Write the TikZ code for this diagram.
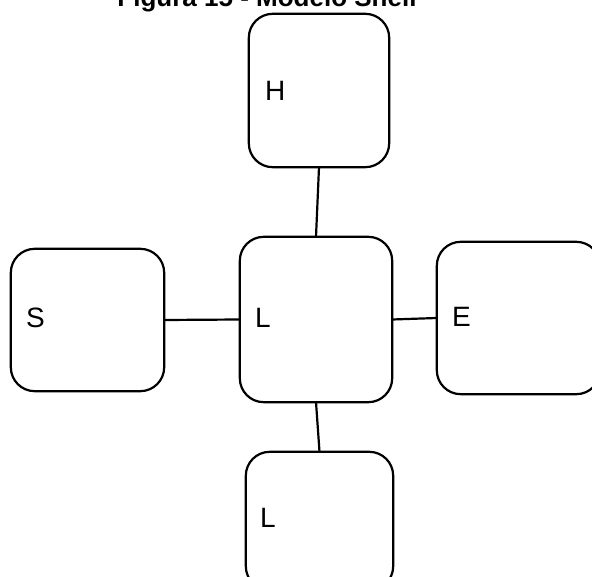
\documentclass[tikz,border=0pt]{standalone}
\usepackage{fontspec}
\setmainfont{Liberation Sans}
\begin{document}
\begin{tikzpicture}[x=1pt,y=-1pt,
  box/.style={draw=black,line width=2.2pt,rounded corners=24pt,fill=white},
  area/.style={inner sep=0pt},
  lbl/.style={anchor=base west,inner sep=0pt,font=\fontsize{28}{34}\selectfont},
  conn/.style={draw=black,line width=2.2pt}]
\useasboundingbox (0,0) rectangle (592,577);
\clip (0,0) rectangle (592,577);
% title
\node[anchor=base,inner sep=0pt,font=\bfseries\fontsize{26}{31}\selectfont] (title) at (267,7) {Figura 15 - Modelo Shell};
% box areas
\node[area,minimum width=140pt,minimum height=153pt] (H) at (319,90.5) {};
\node[area,minimum width=152pt,minimum height=165pt] (Lc) at (316,319.5) {};
\node[area,minimum width=153pt,minimum height=142pt] (S) at (87.5,320) {};
\node[area,minimum width=163pt,minimum height=152pt] (E) at (518.5,318) {};
\node[area,minimum width=147pt,minimum height=138pt] (Lb) at (319.5,521) {};
\foreach \b in {H,Lc,S,E,Lb}
  \draw[box] (\b.south west) rectangle (\b.north east);
% connectors
\draw[conn] (H.south) -- (Lc.north);
\draw[conn] (S.east) -- (Lc.west);
\draw[conn] (Lc.east) -- (E.west);
\draw[conn] (Lc.south) -- (Lb.north);
% labels
\node[lbl] (tH) at (265,100.7) {H};
\node[lbl] (tS) at (26,328) {S};
\node[lbl] (tL) at (255,328) {L};
\node[lbl] (tE) at (452,327) {E};
\node[lbl] (tL2) at (260,527) {L};
\end{tikzpicture}
\end{document}
